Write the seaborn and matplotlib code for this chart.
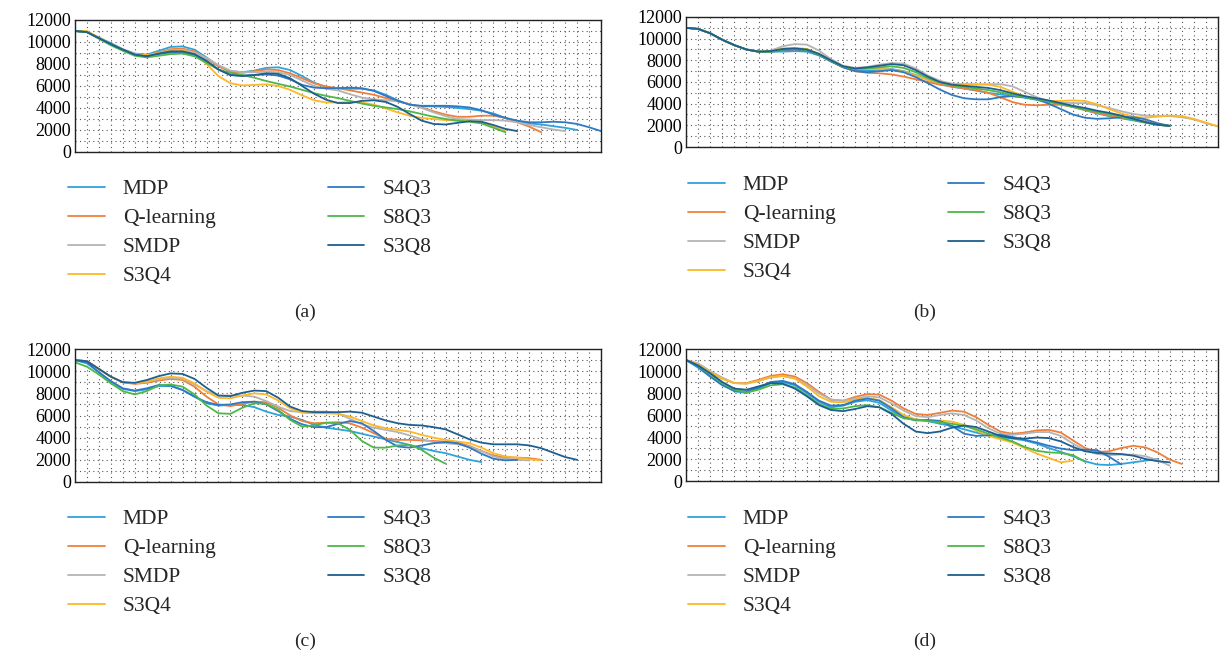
import matplotlib
matplotlib.use("Agg")
import matplotlib.pyplot as plt
from matplotlib.ticker import MultipleLocator
import seaborn as sns
import pandas as pd

# series names and colours (legend order)
names = ["MDP", "Q-learning", "SMDP", "S3Q4", "S4Q3", "S8Q3", "S3Q8"]
colors = ["#2ea3dc", "#f07f3c", "#b4b4b4", "#fdb827", "#2f78c4", "#4db848", "#1e5f91"]

# panel (a), one value per x step
a_mdp = [11000, 10900, 10400, 9900, 9350, 8950, 8850, 9200, 9550, 9600, 9300, 8600, 7800, 7350, 7250, 7400, 7650, 7700, 7450, 6900, 6300, 5900, 5800, 5750, 5750, 5600, 5200, 4700, 4300, 4150, 4150, 4100, 4000, 3900, 3750, 3500, 3100, 2800, 2600, 2500, 2350, 2200, 2000]
a_qlearn = [11000, 10900, 10350, 9800, 9300, 8900, 8800, 9050, 9350, 9400, 9150, 8500, 7800, 7300, 7200, 7350, 7500, 7450, 7150, 6700, 6250, 5950, 5800, 5600, 5400, 5200, 4900, 4600, 4350, 4050, 3700, 3400, 3200, 3200, 3300, 3300, 3100, 2700, 2300, 1800]
a_smdp = [11000, 10900, 10350, 9800, 9300, 8850, 8750, 9000, 9250, 9300, 9050, 8550, 7900, 7400, 7250, 7250, 7300, 7250, 7000, 6500, 6000, 5750, 5600, 5250, 4950, 4800, 4700, 4600, 4350, 4000, 3600, 3250, 3000, 2950, 2900, 2900, 2850, 2700, 2450, 2250, 2050, 1900]
a_s3q4 = [11000, 11000, 10400, 9800, 9300, 8900, 8800, 9000, 9200, 9250, 8900, 8000, 6900, 6250, 6050, 6100, 6150, 6000, 5650, 5150, 4700, 4500, 4500, 4550, 4500, 4300, 3950, 3600, 3300, 3100, 3000, 2900, 2850, 2800, 2700, 2300, 1900]
a_s4q3 = [11000, 10900, 10350, 9800, 9300, 8850, 8700, 8900, 9050, 9050, 8800, 8200, 7500, 7000, 6950, 7000, 7050, 6950, 6600, 6100, 5850, 5800, 5800, 5850, 5800, 5550, 5100, 4650, 4300, 4200, 4200, 4200, 4150, 4050, 3800, 3400, 3100, 2850, 2700, 2700, 2750, 2700, 2550, 2250, 1900]
a_s8q3 = [11000, 10900, 10300, 9700, 9200, 8750, 8600, 8750, 8900, 8950, 8700, 8100, 7500, 7200, 7000, 6750, 6450, 6200, 5950, 5650, 5350, 5100, 4900, 4650, 4400, 4200, 4050, 3900, 3700, 3450, 3200, 3000, 2850, 2750, 2600, 2200, 1800]
a_s3q8 = [11000, 10900, 10350, 9800, 9300, 8850, 8700, 8950, 9150, 9150, 8900, 8300, 7500, 7000, 6900, 7000, 7150, 7100, 6700, 6000, 5300, 4750, 4450, 4450, 4650, 4700, 4550, 4100, 3450, 2850, 2550, 2500, 2650, 2800, 2750, 2450, 2100, 1900]

# panel (b)
b_mdp = [11000, 10900, 10500, 9900, 9400, 9000, 8800, 8800, 8800, 8850, 8800, 8450, 7900, 7400, 7100, 7050, 7150, 7200, 7000, 6650, 6200, 5800, 5550, 5400, 5200, 5000, 4850, 4700, 4550, 4350, 4150, 3950, 3700, 3400, 3100, 2850, 2650, 2450, 2250, 2050, 1950]
b_qlearn = [11000, 10900, 10500, 9900, 9400, 9000, 8800, 8800, 8900, 9000, 8900, 8500, 7900, 7350, 7000, 6850, 6800, 6700, 6500, 6250, 6000, 5750, 5600, 5400, 5250, 5000, 4600, 4150, 3900, 3850, 3900, 3900, 3700, 3400, 3150, 2900, 2700, 2600, 2350, 2100, 1950]
b_smdp = [11000, 10900, 10500, 9900, 9400, 9000, 8800, 8900, 9300, 9500, 9450, 8900, 8100, 7500, 7300, 7400, 7600, 7750, 7700, 7250, 6600, 6100, 5850, 5800, 5750, 5800, 5800, 5600, 5100, 4600, 4250, 4100, 4050, 4050, 3850, 3600, 3300, 3050, 2900, 2850, 2850, 2750, 2550, 2200, 1900]
b_s3q4 = [11000, 10900, 10500, 9900, 9400, 9000, 8800, 8850, 9100, 9150, 9050, 8600, 8000, 7450, 7200, 7200, 7200, 7150, 6950, 6600, 6200, 5900, 5800, 5800, 5800, 5750, 5550, 5100, 4700, 4400, 4250, 4250, 4300, 4250, 3950, 3500, 3100, 2800, 2700, 2800, 2900, 2850, 2600, 2250, 1900]
b_s4q3 = [11000, 10900, 10500, 9900, 9400, 9000, 8800, 8800, 8950, 9000, 8900, 8500, 7900, 7350, 7000, 6900, 7000, 7100, 6900, 6450, 5900, 5300, 4800, 4500, 4400, 4400, 4600, 4700, 4600, 4400, 4000, 3500, 3000, 2700, 2600, 2650, 2750, 2750, 2550, 2200, 1950]
b_s8q3 = [11000, 10900, 10500, 9900, 9400, 9000, 8800, 8800, 9000, 9050, 8950, 8550, 7950, 7400, 7200, 7250, 7350, 7450, 7300, 6900, 6350, 5950, 5700, 5550, 5400, 5250, 5050, 4800, 4600, 4400, 4200, 3950, 3700, 3450, 3250, 3050, 2800, 2500, 2250, 2050, 1950]
b_s3q8 = [11000, 10900, 10500, 9900, 9400, 9000, 8800, 8850, 9050, 9100, 9000, 8600, 8000, 7450, 7250, 7350, 7500, 7650, 7550, 7100, 6500, 6000, 5750, 5650, 5550, 5450, 5250, 4950, 4700, 4500, 4300, 4050, 3800, 3600, 3350, 3150, 2900, 2600, 2300, 2050, 1950]

# panel (c)
c_mdp = [11000, 10700, 9900, 9050, 8400, 8200, 8350, 8650, 8650, 8300, 7700, 7100, 6900, 6950, 6950, 6750, 6350, 6050, 5900, 5600, 5150, 4900, 4750, 4600, 4350, 4100, 3850, 3600, 3350, 3050, 2800, 2600, 2300, 2000, 1800]
c_qlearn = [11000, 10900, 10200, 9500, 9000, 8850, 8950, 9150, 9300, 9200, 8600, 7700, 7000, 6850, 7050, 7250, 7200, 6700, 6000, 5500, 5300, 5350, 5400, 5300, 4900, 4400, 3900, 3800, 3800, 3750, 3700, 3650, 3550, 3250, 2800, 2400, 2200, 2200, 2150, 2000]
c_smdp = [11000, 10900, 10200, 9500, 9000, 8900, 9050, 9250, 9400, 9300, 8800, 8200, 7800, 7800, 7800, 7700, 7300, 6800, 6400, 6300, 6350, 6350, 6200, 5700, 5200, 4900, 4700, 4500, 4200, 3850, 3600, 3500, 3400, 3200, 2800, 2300, 2100, 2000, 1950]
c_s3q4 = [11000, 10900, 10200, 9500, 9000, 8900, 9050, 9350, 9500, 9400, 8900, 8150, 7600, 7550, 7800, 8000, 7900, 7350, 6650, 6250, 6200, 6200, 6150, 5900, 5500, 5100, 4850, 4700, 4550, 4250, 4000, 3800, 3650, 3500, 3100, 2600, 2300, 2200, 2050, 1950]
c_s4q3 = [11000, 10800, 9900, 9100, 8450, 8250, 8450, 8750, 8700, 8300, 7700, 7200, 6950, 7000, 7200, 7250, 7000, 6400, 5700, 5200, 4950, 4950, 5250, 5500, 5300, 4600, 3800, 3200, 3100, 3300, 3500, 3600, 3500, 3100, 2550, 2100, 1950, 2000]
c_s8q3 = [10800, 10400, 9700, 8900, 8200, 7900, 8200, 8700, 8800, 8600, 7900, 6900, 6200, 6150, 6700, 7100, 7050, 6500, 5600, 5000, 5100, 5350, 5300, 4700, 3700, 3100, 3100, 3300, 3350, 2900, 2200, 1650]
c_s3q8 = [11000, 10900, 10200, 9500, 9000, 8950, 9200, 9550, 9800, 9750, 9300, 8500, 7800, 7750, 8050, 8250, 8200, 7600, 6800, 6400, 6300, 6300, 6300, 6350, 6250, 5900, 5550, 5300, 5150, 5100, 4950, 4750, 4300, 3850, 3550, 3400, 3400, 3400, 3300, 3050, 2650, 2250, 2000]

# panel (d)
d_mdp = [11000, 10300, 9500, 8800, 8150, 8000, 8400, 8900, 9000, 8700, 8000, 7200, 6700, 6850, 7200, 7350, 7100, 6400, 5800, 5600, 5450, 5200, 5000, 4700, 4400, 4150, 4000, 3850, 3700, 3400, 3000, 2650, 2250, 1800, 1500, 1450, 1550, 1700, 1850, 2000]
d_qlearn = [11000, 10600, 9900, 9300, 8900, 8900, 9200, 9550, 9700, 9500, 8900, 8100, 7400, 7300, 7650, 7900, 7850, 7300, 6600, 6100, 6000, 6200, 6400, 6300, 5800, 5100, 4500, 4300, 4400, 4600, 4650, 4400, 3700, 3000, 2650, 2700, 3000, 3200, 3050, 2600, 1950, 1550]
d_smdp = [11000, 10700, 10000, 9400, 8900, 8850, 9100, 9400, 9550, 9350, 8750, 7950, 7400, 7300, 7500, 7700, 7600, 7050, 6400, 5900, 5800, 6000, 6150, 6000, 5500, 4800, 4300, 4200, 4300, 4450, 4450, 4100, 3400, 2800, 2450, 2350, 2400, 2400, 2250, 1900, 1400]
d_s3q4 = [11000, 10600, 9900, 9300, 8900, 8850, 9100, 9450, 9550, 9300, 8600, 7700, 7200, 7150, 7400, 7550, 7350, 6700, 6000, 5600, 5500, 5500, 5400, 5100, 4600, 4100, 3800, 3500, 3000, 2500, 2100, 1700, 1850]
d_s4q3 = [11000, 10400, 9500, 8700, 8200, 8150, 8500, 9000, 9100, 8800, 8100, 7300, 6850, 6900, 7300, 7500, 7300, 6600, 5800, 5500, 5550, 5450, 5000, 4300, 4100, 4150, 4200, 4000, 3750, 3500, 3200, 2950, 2800, 2850, 2800, 2200, 1500]
d_s8q3 = [11000, 10500, 9700, 8900, 8300, 8050, 8300, 8700, 8800, 8500, 7800, 7000, 6550, 6600, 6800, 6900, 6700, 6200, 5700, 5550, 5450, 5350, 5200, 5000, 4700, 4300, 3950, 3600, 3100, 2750, 2600, 2550, 2350, 1750]
d_s3q8 = [11000, 10500, 9800, 9000, 8400, 8300, 8600, 8900, 8850, 8400, 7700, 6900, 6450, 6350, 6550, 6800, 6700, 6100, 5200, 4500, 4350, 4500, 4850, 5050, 4900, 4500, 4100, 3900, 3850, 3950, 3900, 3600, 3100, 2700, 2550, 2500, 2450, 2300, 2000, 1800, 1700]

panels = {
    "(a)": [a_mdp, a_qlearn, a_smdp, a_s3q4, a_s4q3, a_s8q3, a_s3q8],
    "(b)": [b_mdp, b_qlearn, b_smdp, b_s3q4, b_s4q3, b_s8q3, b_s3q8],
    "(c)": [c_mdp, c_qlearn, c_smdp, c_s3q4, c_s4q3, c_s8q3, c_s3q8],
    "(d)": [d_mdp, d_qlearn, d_smdp, d_s3q4, d_s4q3, d_s8q3, d_s3q8],
}

# layout in pixels: axes box (left, top, right, bottom), legend anchor, caption centre
layout = {
    "(a)": ((75, 20, 601, 152), (68, 179), (305, 312)),
    "(b)": ((686, 17, 1218, 147), (688, 175), (925, 312)),
    "(c)": ((75, 349, 601, 482), (68, 509), (305, 641)),
    "(d)": ((686, 349, 1218, 481), (688, 509), (925, 641)),
}

W, H = 1220, 660

sns.set_theme(style="white")
plt.rcParams["font.family"] = ["Liberation Serif", "DejaVu Serif"]

fig = plt.figure(figsize=(W / 100, H / 100), dpi=100)

for label, series in panels.items():
    (l, t, r, b), (lx, ly), (cx, cy) = layout[label]
    ax = fig.add_axes([l / W, 1 - b / H, (r - l) / W, (b - t) / H])

    df = pd.concat([
        pd.DataFrame({"step": range(len(v)), "value": v, "method": n})
        for n, v in zip(names, series)
    ])
    sns.lineplot(data=df, x="step", y="value", hue="method", hue_order=names,
                 palette=colors, estimator=None, linewidth=1.3, legend=False, ax=ax)

    ax.set_xlim(0, 44)
    ax.set_ylim(0, 12000)
    ax.xaxis.set_major_locator(MultipleLocator(1))
    ax.yaxis.set_major_locator(MultipleLocator(2000))
    ax.yaxis.set_minor_locator(MultipleLocator(1000))
    ax.set_xticklabels([])
    ax.set_xlabel("")
    ax.set_ylabel("")
    ax.tick_params(which="both", length=0, labelsize=13, pad=3, colors="black")
    ax.grid(which="major", axis="both", color="#555555", linestyle=(0, (1, 3)), linewidth=0.8)
    ax.grid(which="minor", axis="y", color="#555555", linestyle=(0, (1, 3)), linewidth=0.8)
    ax.set_axisbelow(True)
    for sp in ax.spines.values():
        sp.set_color("#222222")
        sp.set_linewidth(1.0)

    handles = ax.get_lines()[:len(names)]
    fig.legend(handles, names, loc="upper left", bbox_to_anchor=(lx / W, 1 - ly / H),
               ncol=2, frameon=False, fontsize=15.5, handlelength=1.7,
               handletextpad=0.85, columnspacing=5.2, labelspacing=0.42,
               borderaxespad=0, borderpad=0)

    fig.text(cx / W, 1 - cy / H, label, ha="center", va="center", fontsize=14)

fig.savefig("out.png", dpi=100)
